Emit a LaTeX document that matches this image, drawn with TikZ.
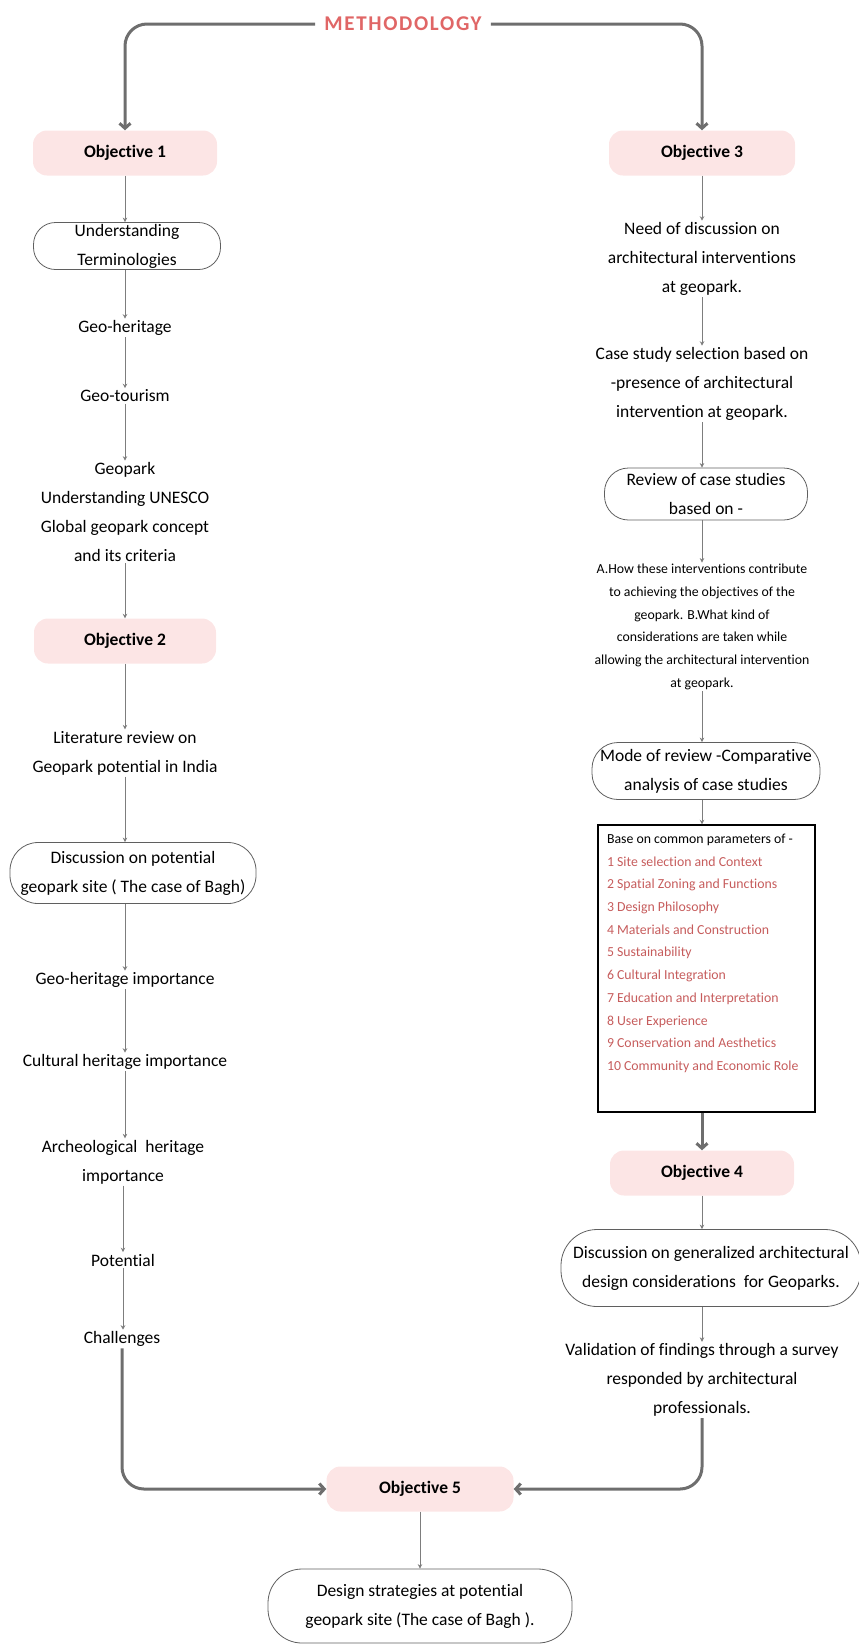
\documentclass[tikz,border=0pt]{standalone}
\usepackage{fontspec}
\setmainfont{Carlito}[Ligatures={NoCommon,NoContextual,NoRequired}]
\usepackage{tikz}
\usetikzlibrary{arrows.meta}

\definecolor{objpink}{RGB}{252,229,229}
\definecolor{titlered}{RGB}{224,102,102}
\definecolor{listred}{RGB}{198,92,92}
\definecolor{flowgray}{RGB}{125,125,125}
\definecolor{linkgray}{RGB}{110,110,110}
\definecolor{pillgray}{RGB}{95,95,95}

\newcommand{\mainsize}{\fontsize{17.5}{29}\selectfont}
\newcommand{\smallsize}{\fontsize{13.8}{22.7}\selectfont}

\begin{document}
\begin{tikzpicture}[x=1pt,y=-1pt,
		objective/.style={fill=objpink,rounded corners=14pt,minimum width=184pt,minimum height=45pt,font=\mainsize\bfseries},
		pill/.style={draw=pillgray,line width=0.8pt,rounded corners=#1,align=center,font=\mainsize,inner sep=1pt},
		pill/.default=22pt,
		txt/.style={align=center,font=\mainsize,inner sep=1.5pt},
		flow/.style={draw=flowgray,line width=1pt,-{Stealth[length=4.5pt,width=4.5pt]}},
		link/.style={draw=linkgray,line width=3pt,rounded corners=22pt,-{Straight Barb[length=5pt,width=11pt]}}]
			\useasboundingbox (0,0) rectangle (859,1644);
			\node[text=titlered,inner xsep=9pt,font=\fontsize{21}{25}\selectfont\bfseries\addfontfeature{LetterSpace=8}] (title) at (403,24) {METHODOLOGY};
			\node[objective] (obj1) at (125,153) {Objective 1};
			\node[objective,minimum width=186pt] (obj3) at (702,153) {Objective 3};
			\node[objective,minimum width=182pt] (obj2) at (125,641) {Objective 2};
			\node[objective] (obj4) at (702,1173) {Objective 4};
			\node[objective,minimum width=187pt] (obj5) at (420,1489) {Objective 5};

			\node[pill,minimum width=187pt,minimum height=47pt] (terms) at (127,246) {Understanding\\Terminologies};
			\node[txt] (geoher) at (125,328) {Geo-heritage};
			\node[txt] (geotour) at (125,396) {Geo-tourism};
			\node[txt] (geopark) at (125,512) {Geopark\\Understanding UNESCO\\Global geopark concept\\and its criteria};
			\node[txt] (litrev) at (125,753) {Literature review on\\Geopark potential in India};
			\node[pill=28pt,minimum width=246pt,minimum height=61pt] (sitedisc) at (133,873) {Discussion on potential\\geopark site ( The case of Bagh)};
			\node[txt] (geoimp) at (125,980) {Geo-heritage importance};
			\node[txt] (cultimp) at (125,1062) {Cultural heritage importance};
			\node[txt] (archimp) at (123,1162) {Archeological\ \ heritage\\importance};
			\node[txt] (potential) at (123,1260) {Potential};
			\node[txt] (chal) at (122,1339) {Challenges};

			\node[txt] (need) at (702,259) {Need of discussion on\\architectural interventions\\at geopark.};
			\node[txt] (casesel) at (702,384) {Case study selection based on\\-presence of architectural\\intervention at geopark.};
			\node[pill=24pt,minimum width=203pt,minimum height=52pt] (review) at (706,494) {Review of case studies\\based on -};
			\node[txt,font=\smallsize] (howtxt) at (702,627) {A.How these interventions contribute\\to achieving the objectives of the\\geopark. B.What kind of\\considerations are taken while\\allowing the architectural intervention\\at geopark.};
			\node[pill=26pt,minimum width=228pt,minimum height=57pt] (mode) at (706,771) {Mode of review -Comparative\\analysis of case studies};
			\node[draw=black,line width=1.4pt,inner sep=9pt] (params) at (706.5,968.5) {\parbox[t][269pt][t]{199pt}{\smallsize\raggedright Base on common parameters of -\\\color{listred}1 Site selection and Context\\2 Spatial Zoning and Functions\\3 Design Philosophy\\4 Materials and Construction\\5 Sustainability\\6 Cultural Integration\\7 Education and Interpretation\\8 User Experience\\9 Conservation and Aesthetics\\10 Community and Economic Role}};
			\node[pill=36pt,minimum width=300pt,minimum height=77pt] (gendisc) at (711,1268) {Discussion on generalized architectural\\design considerations\ \ for Geoparks.};
			\node[txt] (valid) at (702,1380) {Validation of findings through a survey\\responded by architectural\\professionals.};
			\node[pill=34pt,minimum width=304pt,minimum height=74pt] (final) at (420,1606) {Design strategies at potential\\geopark site (The case of Bagh ).};

			\draw[link] (title.west) -| (obj1.north);
			\draw[link] (title.east) -| (obj3.north);
			\draw[flow] (obj1.south) -- (obj1.south |- terms.north);
			\draw[flow] (obj1.south |- terms.south) -- (geoher.north);
			\draw[flow] (geoher.south) -- (geotour.north);
			\draw[flow] (geotour.south) -- (geopark.north);
			\draw[flow] (geopark.south) -- (obj2.north);
			\draw[flow] (obj2.south) -- (litrev.north);
			\draw[flow] (litrev.south) -- (litrev.south |- sitedisc.north);
			\draw[flow] (geoimp.north |- sitedisc.south) -- (geoimp.north);
			\draw[flow] (geoimp.south) -- (cultimp.north);
			\draw[flow] (cultimp.south) -- (cultimp.south |- archimp.north);
			\draw[flow] (archimp.south) -- (potential.north);
			\draw[flow] (potential.south) -- (potential.south |- chal.north);
			\draw[link] (chal.south) |- (obj5.west);

			\draw[flow] (obj3.south) -- (need.north);
			\draw[flow] (need.south) -- (casesel.north);
			\draw[flow] (casesel.south) -- (casesel.south |- review.north);
			\draw[flow] (casesel.south |- review.south) -- (howtxt.north);
			\draw[flow] (howtxt.south) -- (howtxt.south |- mode.north);
			\draw[flow] (howtxt.south |- mode.south) -- (howtxt.south |- params.north);
			\draw[link] (obj4.north |- params.south) -- (obj4.north);
			\draw[flow] (obj4.south) -- (obj4.south |- gendisc.north);
			\draw[flow] (obj4.south |- gendisc.south) -- (valid.north);
			\draw[link] (valid.south) |- (obj5.east);
			\draw[flow] (obj5.south) -- (final.north);
		\end{tikzpicture}
\end{document}
